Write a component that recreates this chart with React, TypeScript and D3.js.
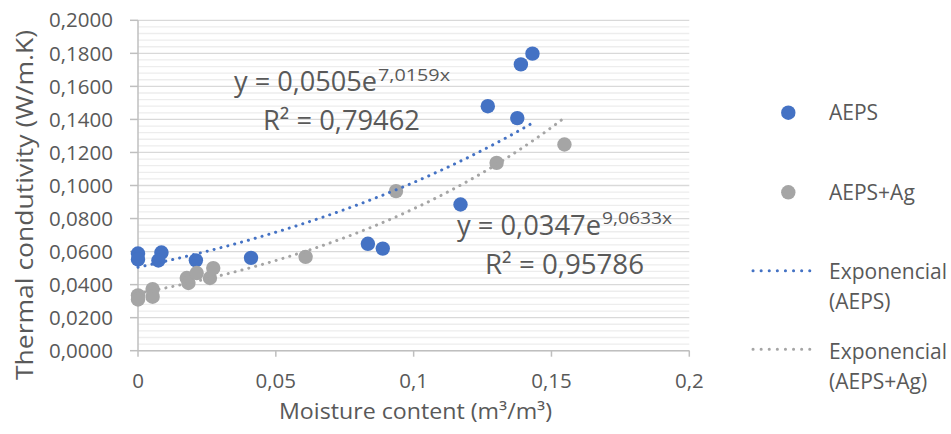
import React from 'react';
import * as d3 from 'd3';

const xTicks = [0, 0.05, 0.1, 0.15, 0.2];
const xTickLabels = ['0', '0,05', '0,1', '0,15', '0,2'];
const yTicks = [0, 0.02, 0.04, 0.06, 0.08, 0.1, 0.12, 0.14, 0.16, 0.18, 0.2];
const yTickLabels = ['0,0000', '0,0200', '0,0400', '0,0600', '0,0800', '0,1000', '0,1200', '0,1400', '0,1600', '0,1800', '0,2000'];

const aepsX = [0, 0, 0.0085, 0.0074, 0.021, 0.041, 0.0834, 0.0888, 0.117, 0.1269, 0.1376, 0.1389, 0.1431];
const aepsY = [0.0588, 0.0552, 0.0594, 0.0546, 0.0547, 0.0562, 0.0647, 0.0618, 0.0885, 0.148, 0.1408, 0.1733, 0.1798];

const agX = [0, 0, 0.0053, 0.0053, 0.0177, 0.0183, 0.0213, 0.0261, 0.0273, 0.0608, 0.0936, 0.1301, 0.1547];
const agY = [0.0335, 0.031, 0.0373, 0.0327, 0.044, 0.041, 0.047, 0.044, 0.050, 0.0568, 0.0966, 0.1137, 0.1248];

// exponential trendline coefficients: y = a * e^(b x)
const aepsTrend = [0.0505, 7.0159];
const agTrend = [0.0347, 9.0633];

const seriesNames = ['AEPS', 'AEPS+Ag'];
const BLUE = '#4472C4';
const GRAY = '#A5A5A5';
const TEXT = '#595959';
const FONT = "'Open Sans', sans-serif";

export default function App() {
  const x = d3.scaleLinear().domain([0, 0.2]).range([138, 689.3]);
  const y = d3.scaleLinear().domain([0, 0.2]).range([350.7, 20.3]);

  const minorTicks = d3.range(0, 51).map((i) => i * 0.004).filter((_, i) => i % 5 !== 0);

  const trendPath = (coef: number[], xs: number[]) => {
    const lo = d3.min(xs) as number;
    const hi = d3.max(xs) as number;
    const pts = d3.range(0, 101).map((i) => lo + ((hi - lo) * i) / 100);
    const line = d3
      .line<number>()
      .x((v) => x(v))
      .y((v) => y(coef[0] * Math.exp(coef[1] * v)));
    return line(pts) || '';
  };

  return (
    <svg width={951} height={434} style={{ position: 'absolute', left: 0, top: 0, background: '#fff' }} fontFamily={FONT}>
      <rect x={0} y={0} width={951} height={434} fill="#fff" />
      {/* minor gridlines */}
      {minorTicks.map((t, i) => (
        <line key={'m' + i} x1={x(0)} x2={x(0.2)} y1={y(t)} y2={y(t)} stroke="#EDEDED" strokeWidth={1.3} />
      ))}
      {/* major gridlines */}
      {yTicks.map((t, i) => (
        <line key={'g' + i} x1={x(0)} x2={x(0.2)} y1={y(t)} y2={y(t)} stroke="#D9D9D9" strokeWidth={1.3} />
      ))}
      {/* axes */}
      <line x1={x(0)} x2={x(0)} y1={y(0.2)} y2={y(0)} stroke="#BFBFBF" strokeWidth={1.5} />
      <line x1={x(0)} x2={x(0.2)} y1={y(0)} y2={y(0)} stroke="#BFBFBF" strokeWidth={1.5} />
      {yTicks.map((t, i) => (
        <line key={'yt' + i} x1={x(0) - 8} x2={x(0)} y1={y(t)} y2={y(t)} stroke="#BFBFBF" strokeWidth={1.5} />
      ))}
      {xTicks.map((t, i) => (
        <line key={'xt' + i} x1={x(t)} x2={x(t)} y1={y(0)} y2={y(0) + 6} stroke="#BFBFBF" strokeWidth={1.5} />
      ))}
      {yTicks.map((t, i) => (
        <text key={'yl' + i} x={113} y={y(t)} dy="0.35em" textAnchor="end" fontSize={20.5} fill={TEXT}>
          {yTickLabels[i]}
        </text>
      ))}
      {xTicks.map((t, i) => (
        <text key={'xl' + i} x={x(t)} y={388} textAnchor="middle" fontSize={20.5} fill={TEXT}>
          {xTickLabels[i]}
        </text>
      ))}
      {/* axis titles */}
      <text x={279} y={419} fontSize={21} fill={TEXT} textLength={273} lengthAdjust="spacingAndGlyphs">
        Moisture content (m³/m³)
      </text>
      <text
        transform="translate(33,380) rotate(-90)"
        x={0}
        y={0}
        fontSize={23.5}
        fill={TEXT}
        textLength={350}
        lengthAdjust="spacingAndGlyphs"
      >
        Thermal condutivity (W/m.K)
      </text>

      {/* points */}
      {aepsX.map((v, i) => (
        <circle key={'a' + i} cx={x(v)} cy={y(aepsY[i])} r={7.2} fill={BLUE} />
      ))}
      {agX.map((v, i) => (
        <circle key={'g' + i} cx={x(v)} cy={y(agY[i])} r={7.2} fill={GRAY} />
      ))}
      {/* trendlines */}
      <path d={trendPath(aepsTrend, aepsX)} fill="none" stroke={BLUE} strokeWidth={3} strokeLinecap="round" strokeDasharray="0.1 7" />
      <path d={trendPath(agTrend, agX)} fill="none" stroke={GRAY} strokeWidth={3} strokeLinecap="round" strokeDasharray="0.1 7" />

      {/* equations */}
      <text x={234} y={91} fontSize={27} fill={TEXT} textLength={143} lengthAdjust="spacingAndGlyphs">y = 0,0505e</text>
      <text x={378} y={81} fontSize={17} fill={TEXT} textLength={72} lengthAdjust="spacingAndGlyphs">7,0159x</text>
      <text x={263} y={130} fontSize={27} fill={TEXT} textLength={157} lengthAdjust="spacingAndGlyphs">R² = 0,79462</text>

      <text x={457} y={234.5} fontSize={27} fill={TEXT} textLength={144} lengthAdjust="spacingAndGlyphs">y = 0,0347e</text>
      <text x={602} y={224} fontSize={17} fill={TEXT} textLength={70} lengthAdjust="spacingAndGlyphs">9,0633x</text>
      <text x={485} y={274} fontSize={27} fill={TEXT} textLength={159} lengthAdjust="spacingAndGlyphs">R² = 0,95786</text>

      {/* legend */}
      <circle cx={788.3} cy={112.7} r={7.2} fill={BLUE} />
      <text x={829} y={112.7} dy="0.35em" fontSize={21} fill={TEXT}>{seriesNames[0]}</text>
      <circle cx={788.3} cy={192.3} r={7.2} fill={GRAY} />
      <text x={829} y={192.3} dy="0.35em" fontSize={21} fill={TEXT}>{seriesNames[1]}</text>

      <line x1={753} x2={817} y1={270.7} y2={270.7} stroke={BLUE} strokeWidth={3} strokeLinecap="round" strokeDasharray="0.1 8" />
      <text x={829} y={271.7} dy="0.35em" fontSize={21} fill={TEXT}>Exponencial</text>
      <text x={829} y={301.7} dy="0.35em" fontSize={21} fill={TEXT}>({seriesNames[0]})</text>

      <line x1={753} x2={817} y1={349.3} y2={349.3} stroke={GRAY} strokeWidth={3} strokeLinecap="round" strokeDasharray="0.1 8" />
      <text x={829} y={351.7} dy="0.35em" fontSize={21} fill={TEXT}>Exponencial</text>
      <text x={829} y={381.7} dy="0.35em" fontSize={21} fill={TEXT}>({seriesNames[1]})</text>
    </svg>
  );
}
